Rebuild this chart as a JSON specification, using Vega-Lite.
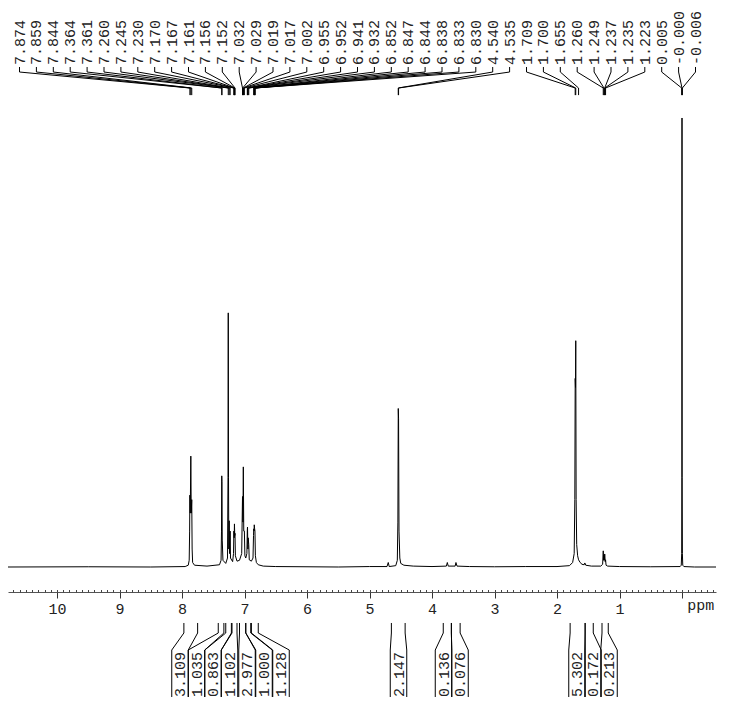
{
  "$schema": "https://vega.github.io/schema/vega-lite/v6.json",
  "width": 708,
  "height": 722,
  "autosize": {"type": "none"},
  "padding": {"left": 8, "top": 0, "right": 16, "bottom": 0},
  "background": "white",
  "config": {"view": {"stroke": null}, "font": "Liberation Mono"},
  "datasets": {
    "spectrum": [
      {"ppm": 10.784, "v": 0}, {"ppm": 9.5, "v": 0.05}, {"ppm": 8.5, "v": 0}, {"ppm": 7.95, "v": 0.1},
      {"ppm": 7.9, "v": 0.4}, {"ppm": 7.885, "v": 1.5}, {"ppm": 7.878, "v": 8}, {"ppm": 7.874, "v": 16},
      {"ppm": 7.868, "v": 12}, {"ppm": 7.859, "v": 24.7}, {"ppm": 7.852, "v": 12}, {"ppm": 7.844, "v": 15},
      {"ppm": 7.838, "v": 4}, {"ppm": 7.83, "v": 1.0}, {"ppm": 7.8, "v": 0.4}, {"ppm": 7.6, "v": 0.2},
      {"ppm": 7.4, "v": 0.5}, {"ppm": 7.375, "v": 1.5}, {"ppm": 7.368, "v": 8}, {"ppm": 7.364, "v": 20.3},
      {"ppm": 7.361, "v": 19}, {"ppm": 7.356, "v": 6}, {"ppm": 7.345, "v": 1.5}, {"ppm": 7.3, "v": 0.8},
      {"ppm": 7.272, "v": 2}, {"ppm": 7.264, "v": 20}, {"ppm": 7.26, "v": 56.6}, {"ppm": 7.256, "v": 20},
      {"ppm": 7.251, "v": 4}, {"ppm": 7.245, "v": 10.3}, {"ppm": 7.24, "v": 3}, {"ppm": 7.233, "v": 6},
      {"ppm": 7.23, "v": 8}, {"ppm": 7.224, "v": 2}, {"ppm": 7.19, "v": 1.2}, {"ppm": 7.176, "v": 3},
      {"ppm": 7.17, "v": 8}, {"ppm": 7.165, "v": 6.5}, {"ppm": 7.161, "v": 9.6}, {"ppm": 7.156, "v": 7},
      {"ppm": 7.152, "v": 7.5}, {"ppm": 7.146, "v": 2.5}, {"ppm": 7.12, "v": 1.3}, {"ppm": 7.08, "v": 1.5},
      {"ppm": 7.045, "v": 3}, {"ppm": 7.032, "v": 15.7}, {"ppm": 7.025, "v": 10}, {"ppm": 7.019, "v": 22.3},
      {"ppm": 7.012, "v": 8}, {"ppm": 7.002, "v": 8}, {"ppm": 6.994, "v": 2.5}, {"ppm": 6.98, "v": 2},
      {"ppm": 6.962, "v": 3}, {"ppm": 6.955, "v": 8.2}, {"ppm": 6.952, "v": 8.9}, {"ppm": 6.946, "v": 4},
      {"ppm": 6.941, "v": 6.5}, {"ppm": 6.932, "v": 5}, {"ppm": 6.924, "v": 1.6}, {"ppm": 6.89, "v": 1.3},
      {"ppm": 6.864, "v": 2}, {"ppm": 6.856, "v": 7}, {"ppm": 6.852, "v": 8.5}, {"ppm": 6.847, "v": 8},
      {"ppm": 6.844, "v": 9.4}, {"ppm": 6.838, "v": 8.5}, {"ppm": 6.833, "v": 8}, {"ppm": 6.826, "v": 2.5},
      {"ppm": 6.81, "v": 1}, {"ppm": 6.78, "v": 0.5}, {"ppm": 6.7, "v": 0.2}, {"ppm": 6.5, "v": 0.1},
      {"ppm": 6.0, "v": 0.05}, {"ppm": 5.5, "v": 0}, {"ppm": 5.0, "v": 0.1}, {"ppm": 4.72, "v": 0.1},
      {"ppm": 4.7, "v": 1.0}, {"ppm": 4.685, "v": 0.1}, {"ppm": 4.58, "v": 0.3}, {"ppm": 4.555, "v": 1.5},
      {"ppm": 4.546, "v": 10}, {"ppm": 4.54, "v": 35.3}, {"ppm": 4.535, "v": 33}, {"ppm": 4.528, "v": 8},
      {"ppm": 4.515, "v": 2}, {"ppm": 4.5, "v": 0.8}, {"ppm": 4.45, "v": 0.4}, {"ppm": 4.3, "v": 0.2},
      {"ppm": 4.0, "v": 0.1}, {"ppm": 3.77, "v": 0.2}, {"ppm": 3.755, "v": 1.0}, {"ppm": 3.74, "v": 0.2},
      {"ppm": 3.63, "v": 0.2}, {"ppm": 3.617, "v": 1.0}, {"ppm": 3.6, "v": 0.2}, {"ppm": 3.4, "v": 0.1},
      {"ppm": 3.0, "v": 0.05}, {"ppm": 2.5, "v": 0.1}, {"ppm": 2.0, "v": 0.1}, {"ppm": 1.8, "v": 0.3},
      {"ppm": 1.75, "v": 1.0}, {"ppm": 1.725, "v": 3}, {"ppm": 1.715, "v": 15}, {"ppm": 1.709, "v": 42},
      {"ppm": 1.704, "v": 40}, {"ppm": 1.7, "v": 50.4}, {"ppm": 1.694, "v": 15}, {"ppm": 1.685, "v": 5},
      {"ppm": 1.67, "v": 2.5}, {"ppm": 1.655, "v": 1.6}, {"ppm": 1.63, "v": 1.0}, {"ppm": 1.6, "v": 0.6},
      {"ppm": 1.565, "v": 0.5}, {"ppm": 1.555, "v": 0.9}, {"ppm": 1.54, "v": 0.4}, {"ppm": 1.45, "v": 0.2},
      {"ppm": 1.3, "v": 0.2}, {"ppm": 1.27, "v": 0.6}, {"ppm": 1.26, "v": 3.6}, {"ppm": 1.255, "v": 1.5},
      {"ppm": 1.249, "v": 2.6}, {"ppm": 1.243, "v": 1.5}, {"ppm": 1.237, "v": 2.9}, {"ppm": 1.235, "v": 2.7},
      {"ppm": 1.229, "v": 1.2}, {"ppm": 1.223, "v": 1.6}, {"ppm": 1.215, "v": 0.4}, {"ppm": 1.19, "v": 0.2},
      {"ppm": 1.0, "v": 0.1}, {"ppm": 0.5, "v": 0.05}, {"ppm": 0.03, "v": 0.1}, {"ppm": 0.012, "v": 0.4},
      {"ppm": 0.005, "v": 3}, {"ppm": 0.002, "v": 20}, {"ppm": 0.0, "v": 100}, {"ppm": -0.002, "v": 20},
      {"ppm": -0.006, "v": 3}, {"ppm": -0.012, "v": 0.4}, {"ppm": -0.03, "v": 0.1}, {"ppm": -0.2, "v": 0},
      {"ppm": -0.544, "v": 0}
    ],
    "peaks": [
      {"t": "7.874", "ppm": 7.874}, {"t": "7.859", "ppm": 7.859}, {"t": "7.844", "ppm": 7.844},
      {"t": "7.364", "ppm": 7.364}, {"t": "7.361", "ppm": 7.361}, {"t": "7.260", "ppm": 7.26},
      {"t": "7.245", "ppm": 7.245}, {"t": "7.230", "ppm": 7.23}, {"t": "7.170", "ppm": 7.17},
      {"t": "7.167", "ppm": 7.167}, {"t": "7.161", "ppm": 7.161}, {"t": "7.156", "ppm": 7.156},
      {"t": "7.152", "ppm": 7.152}, {"t": "7.032", "ppm": 7.032}, {"t": "7.029", "ppm": 7.029},
      {"t": "7.019", "ppm": 7.019}, {"t": "7.017", "ppm": 7.017}, {"t": "7.002", "ppm": 7.002},
      {"t": "6.955", "ppm": 6.955}, {"t": "6.952", "ppm": 6.952}, {"t": "6.941", "ppm": 6.941},
      {"t": "6.932", "ppm": 6.932}, {"t": "6.852", "ppm": 6.852}, {"t": "6.847", "ppm": 6.847},
      {"t": "6.844", "ppm": 6.844}, {"t": "6.838", "ppm": 6.838}, {"t": "6.833", "ppm": 6.833},
      {"t": "6.830", "ppm": 6.83}, {"t": "4.540", "ppm": 4.54}, {"t": "4.535", "ppm": 4.535},
      {"t": "1.709", "ppm": 1.709}, {"t": "1.700", "ppm": 1.7}, {"t": "1.655", "ppm": 1.655},
      {"t": "1.260", "ppm": 1.26}, {"t": "1.249", "ppm": 1.249}, {"t": "1.237", "ppm": 1.237},
      {"t": "1.235", "ppm": 1.235}, {"t": "1.223", "ppm": 1.223}, {"t": "0.005", "ppm": 0.005},
      {"t": "-0.000", "ppm": 0.0}, {"t": "-0.006", "ppm": -0.006}
    ],
    "integrals": [
      {"t": "3.109", "a": 7.97, "b": 7.75, "lab": 8.032},
      {"t": "1.035", "a": 7.42, "b": 7.33, "lab": 7.768},
      {"t": "0.863", "a": 7.30, "b": 7.21, "lab": 7.504},
      {"t": "1.102", "a": 7.20, "b": 7.12, "lab": 7.24},
      {"t": "2.977", "a": 7.08, "b": 6.98, "lab": 6.96},
      {"t": "1.000", "a": 6.98, "b": 6.90, "lab": 6.688},
      {"t": "1.128", "a": 6.89, "b": 6.78, "lab": 6.416},
      {"t": "2.147", "a": 4.65, "b": 4.43, "lab": 4.536},
      {"t": "0.136", "a": 3.82, "b": 3.69, "lab": 3.816},
      {"t": "0.076", "a": 3.69, "b": 3.55, "lab": 3.552},
      {"t": "5.302", "a": 1.79, "b": 1.55, "lab": 1.68},
      {"t": "0.172", "a": 1.55, "b": 1.42, "lab": 1.424},
      {"t": "0.213", "a": 1.28, "b": 1.18, "lab": 1.168}
    ]
  },
  "resolve": {"axis": {"x": "independent"}},
  "layer": [
    {
      "data": {"name": "spectrum"},
      "mark": {"type": "line", "color": "#000", "strokeWidth": 1, "interpolate": "linear"},
      "encoding": {
        "x": {"field": "ppm", "type": "quantitative",
          "scale": {"domain": [10.784, -0.544], "nice": false, "zero": false},
          "axis": {"orient": "bottom", "offset": -130, "values": [0, 1, 2, 3, 4, 5, 6, 7, 8, 9, 10],
            "tickSize": 6, "labelExpr": "datum.value == 0 ? '' : datum.label", "labelFont": "Liberation Mono",
            "labelFontSize": 15, "labelColor": "#222", "labelPadding": 3, "domainColor": "#555",
            "tickColor": "#333", "title": null, "grid": false, "labelFlush": false, "labelOverlap": false}},
        "y": {"field": "v", "type": "quantitative",
          "scale": {"domain": [-34.52, 126.28], "nice": false, "zero": false}, "axis": null}
      }
    },
    {
      "data": {"name": "peaks"},
      "transform": [
        {"window": [{"op": "row_number", "as": "rn"}], "sort": [{"field": "ppm", "order": "descending"}]},
        {"calculate": "(662.5 - 16.9 * (datum.rn - 1)) / 62.5", "as": "lx"}
      ],
      "mark": {"type": "text", "angle": 270, "align": "left", "baseline": "middle", "font": "Liberation Mono", "fontSize": 15, "color": "#222"},
      "encoding": {
        "x": {"field": "lx", "type": "quantitative",
          "axis": {"orient": "bottom", "offset": -130, "tickCount": 113, "tickSize": -2.5, "labels": false,
            "domain": false, "grid": false, "title": null, "tickColor": "#444"}},
        "y": {"datum": 111.8, "type": "quantitative"},
        "text": {"field": "t"}
      }
    },
    {
      "data": {"name": "peaks"},
      "transform": [
        {"window": [{"op": "row_number", "as": "rn"}], "sort": [{"field": "ppm", "order": "descending"}]},
        {"calculate": "(662.5 - 16.9 * (datum.rn - 1)) / 62.5", "as": "lx"}
      ],
      "mark": {"type": "rule", "color": "#000", "strokeWidth": 1},
      "encoding": {
        "x": {"field": "lx", "type": "quantitative", "axis": null},
        "y": {"datum": 111.36, "type": "quantitative"},
        "y2": {"datum": 110.24}
      }
    },
    {
      "data": {"name": "peaks"},
      "transform": [
        {"window": [{"op": "row_number", "as": "rn"}], "sort": [{"field": "ppm", "order": "descending"}]},
        {"calculate": "(662.5 - 16.9 * (datum.rn - 1)) / 62.5", "as": "lx"}
      ],
      "mark": {"type": "rule", "color": "#000", "strokeWidth": 1},
      "encoding": {
        "x": {"field": "lx", "type": "quantitative", "axis": null},
        "x2": {"field": "ppm"},
        "y": {"datum": 110.24, "type": "quantitative"},
        "y2": {"datum": 106.68}
      }
    },
    {
      "data": {"name": "peaks"},
      "mark": {"type": "rule", "color": "#000", "strokeWidth": 1},
      "encoding": {
        "x": {"field": "ppm", "type": "quantitative", "axis": null},
        "y": {"datum": 106.68, "type": "quantitative"},
        "y2": {"datum": 105.1}
      }
    },
    {
      "data": {"name": "integrals"},
      "mark": {"type": "text", "angle": 270, "align": "left", "baseline": "middle", "font": "Liberation Mono", "fontSize": 15, "color": "#222"},
      "encoding": {
        "x": {"field": "lab", "type": "quantitative", "axis": null},
        "y": {"datum": -28.95, "type": "quantitative"},
        "text": {"field": "t"}
      }
    },
    {
      "data": {"name": "integrals"},
      "mark": {"type": "rule", "color": "#000", "strokeWidth": 1},
      "encoding": {
        "x": {"field": "a", "type": "quantitative", "axis": null},
        "y": {"datum": -12.47, "type": "quantitative"},
        "y2": {"datum": -14.7}
      }
    },
    {
      "data": {"name": "integrals"},
      "mark": {"type": "rule", "color": "#000", "strokeWidth": 1},
      "encoding": {
        "x": {"field": "b", "type": "quantitative", "axis": null},
        "y": {"datum": -12.47, "type": "quantitative"},
        "y2": {"datum": -14.7}
      }
    },
    {
      "data": {"name": "integrals"},
      "transform": [{"calculate": "datum.lab + 0.132", "as": "la"}],
      "mark": {"type": "rule", "color": "#000", "strokeWidth": 1},
      "encoding": {
        "x": {"field": "a", "type": "quantitative", "axis": null},
        "x2": {"field": "la"},
        "y": {"datum": -14.7, "type": "quantitative"},
        "y2": {"datum": -18.49}
      }
    },
    {
      "data": {"name": "integrals"},
      "transform": [{"calculate": "datum.lab - 0.132", "as": "ra"}],
      "mark": {"type": "rule", "color": "#000", "strokeWidth": 1},
      "encoding": {
        "x": {"field": "b", "type": "quantitative", "axis": null},
        "x2": {"field": "ra"},
        "y": {"datum": -14.7, "type": "quantitative"},
        "y2": {"datum": -18.49}
      }
    },
    {
      "data": {"name": "integrals"},
      "transform": [{"calculate": "datum.lab + 0.132", "as": "la"}],
      "mark": {"type": "rule", "color": "#000", "strokeWidth": 1},
      "encoding": {
        "x": {"field": "la", "type": "quantitative", "axis": null},
        "y": {"datum": -18.49, "type": "quantitative"},
        "y2": {"datum": -28.95}
      }
    },
    {
      "data": {"name": "integrals"},
      "transform": [{"calculate": "datum.lab - 0.132", "as": "ra"}],
      "mark": {"type": "rule", "color": "#000", "strokeWidth": 1},
      "encoding": {
        "x": {"field": "ra", "type": "quantitative", "axis": null},
        "y": {"datum": -18.49, "type": "quantitative"},
        "y2": {"datum": -28.95}
      }
    },
    {
      "data": {"values": [{"t": "ppm", "p": -0.3}]},
      "mark": {"type": "text", "align": "center", "baseline": "alphabetic", "font": "Liberation Mono", "fontSize": 15, "color": "#222"},
      "encoding": {
        "x": {"field": "p", "type": "quantitative", "axis": null},
        "y": {"datum": -9.58, "type": "quantitative"},
        "text": {"field": "t"}
      }
    }
  ]
}
